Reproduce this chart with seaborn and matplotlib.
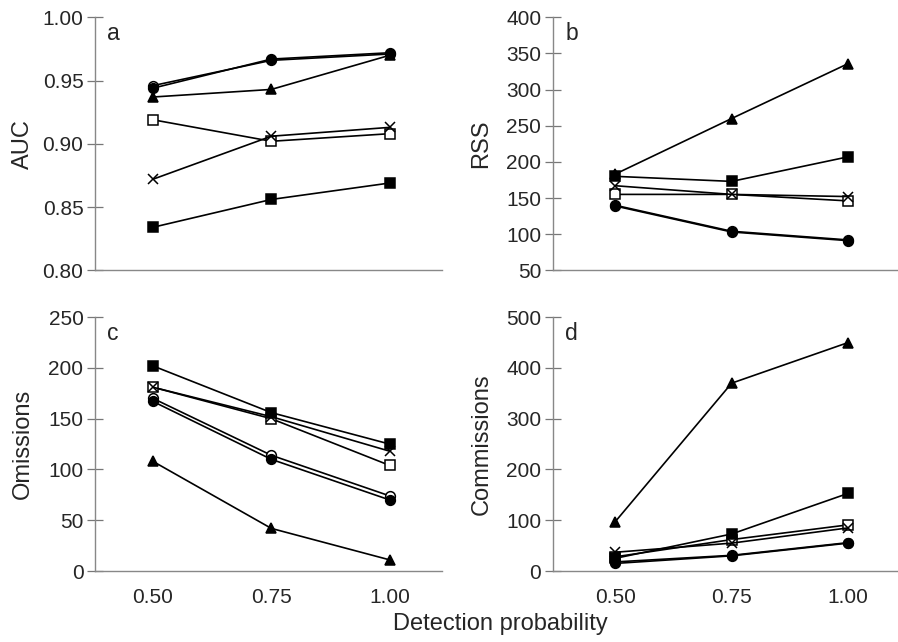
import numpy as np
import pandas as pd
import matplotlib
matplotlib.use("Agg")
import matplotlib.pyplot as plt
import seaborn as sns

# data
det_prob = [0.50, 0.75, 1.00]
series = ["open_circle", "filled_circle", "triangle", "open_square", "cross", "filled_square"]

auc_vals = [
    [0.946, 0.966, 0.971],
    [0.944, 0.967, 0.972],
    [0.937, 0.943, 0.970],
    [0.919, 0.902, 0.908],
    [0.872, 0.906, 0.913],
    [0.834, 0.856, 0.869],
]
rss_vals = [
    [140, 104, 92],
    [139, 103, 91],
    [183, 260, 336],
    [155, 155, 146],
    [167, 155, 152],
    [180, 173, 207],
]
omission_vals = [
    [170, 114, 74],
    [167, 110, 70],
    [108, 42, 11],
    [181, 150, 104],
    [181, 152, 118],
    [202, 156, 125],
]
commission_vals = [
    [18, 31, 56],
    [15, 30, 55],
    [97, 370, 450],
    [28, 62, 91],
    [37, 55, 85],
    [25, 73, 153],
]

panel_letters = ["a", "b", "c", "d"]
y_labels = ["AUC", "RSS", "Omissions", "Commissions"]
y_ticks = [
    [0.80, 0.85, 0.90, 0.95, 1.00],
    [50, 100, 150, 200, 250, 300, 350, 400],
    [0, 50, 100, 150, 200, 250],
    [0, 100, 200, 300, 400, 500],
]
x_ticks = [0.50, 0.75, 1.00]

# marker styles per series
marker_style = {
    "open_circle": dict(marker="o", markerfacecolor="white", markersize=7),
    "filled_circle": dict(marker="o", markerfacecolor="black", markersize=7),
    "triangle": dict(marker="^", markerfacecolor="black", markersize=7),
    "open_square": dict(marker="s", markerfacecolor="white", markersize=6.5),
    "cross": dict(marker="x", markerfacecolor="black", markersize=7),
    "filled_square": dict(marker="s", markerfacecolor="black", markersize=7),
}

sns.set_style("white")
plt.rcParams["font.family"] = ["Liberation Sans", "DejaVu Sans"]

fig = plt.figure(figsize=(8.98, 6.42), dpi=100)
positions = [
    [0.106, 0.579, 0.386, 0.394],
    [0.616, 0.579, 0.383, 0.394],
    [0.106, 0.1105, 0.386, 0.3955],
    [0.616, 0.1105, 0.383, 0.3955],
]
all_vals = [auc_vals, rss_vals, omission_vals, commission_vals]
x_lims = [(0.378, 1.11), (0.367, 1.105), (0.378, 1.11), (0.367, 1.105)]
label_pads = [6.5, 10, 10.5, 10]

for i, (pos, vals) in enumerate(zip(positions, all_vals)):
    ax = fig.add_axes(pos)
    for name, v in zip(series, vals):
        sns.lineplot(x=det_prob, y=v, ax=ax, color="black", linewidth=1.2,
                     markeredgecolor="black", markeredgewidth=1.1,
                     **marker_style[name])
    ax.set_xlim(*x_lims[i])
    ax.set_ylim(y_ticks[i][0], y_ticks[i][-1])
    ax.set_yticks(y_ticks[i])
    if i == 0:
        ax.set_yticklabels([f"{t:.2f}" for t in y_ticks[i]])
    ax.set_xticks(x_ticks)
    if i >= 2:
        ax.set_xticklabels([f"{t:.2f}" for t in x_ticks])
    else:
        ax.set_xticklabels([])
    ax.tick_params(axis="x", bottom=False, length=0, labelsize=15, pad=12)
    ax.tick_params(axis="y", left=True, direction="inout", length=12, width=0.9,
                   color="#777777", labelsize=15, pad=2.5)
    for side in ["top", "right"]:
        ax.spines[side].set_visible(False)
    for side in ["left", "bottom"]:
        ax.spines[side].set_color("#888888")
        ax.spines[side].set_linewidth(1.0)
    ax.set_ylabel(y_labels[i], fontsize=17, labelpad=label_pads[i])
    ax.text(0.035, 0.935, panel_letters[i], transform=ax.transAxes,
            fontsize=16.5, va="center", ha="left")

fig.text(0.557, 0.028, "Detection probability", ha="center", va="center", fontsize=17)

fig.savefig("out.png", dpi=100)
